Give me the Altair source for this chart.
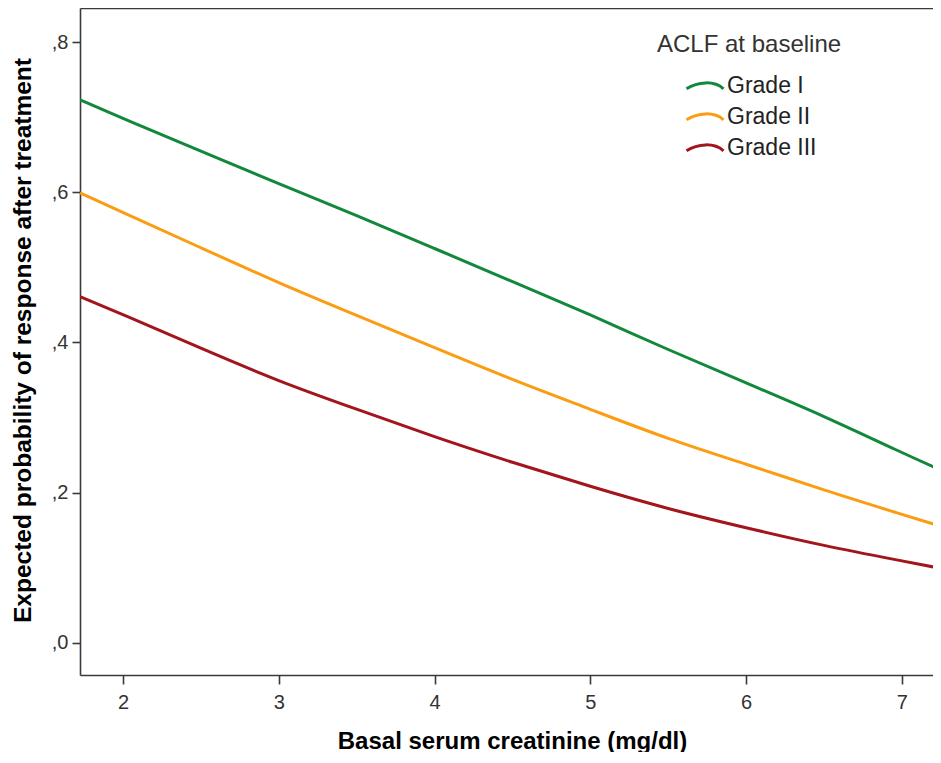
import altair as alt
import pandas as pd

# Values
creatinine = [1.724, 2.0, 2.5, 3.0, 3.5, 4.0, 4.5, 5.0, 5.5, 6.0, 6.5, 7.0, 7.25]
grade_i = [0.723, 0.698, 0.655, 0.611, 0.569, 0.525, 0.481, 0.437, 0.390, 0.346, 0.302, 0.253, 0.230]
grade_ii = [0.599, 0.573, 0.526, 0.479, 0.436, 0.393, 0.350, 0.311, 0.271, 0.238, 0.203, 0.171, 0.155]
grade_iii = [0.461, 0.437, 0.392, 0.348, 0.311, 0.274, 0.240, 0.208, 0.178, 0.153, 0.129, 0.109, 0.099]
grades = ["Grade I", "Grade II", "Grade III"]
colors = ["#12883a", "#fb9d12", "#a3151c"]
x_ticks = [2, 3, 4, 5, 6, 7]
y_ticks = [0.0, 0.2, 0.4, 0.6, 0.8]

rows = []
for g, vals in zip(grades, [grade_i, grade_ii, grade_iii]):
    for x, v in zip(creatinine, vals):
        rows.append({"creatinine": x, "prob": v, "grade": g})
df = pd.DataFrame(rows)

FONT = "Liberation Sans, Arial, sans-serif"
x_scale = alt.Scale(domain=[1.724, 7.2], nice=False, zero=False)
y_scale = alt.Scale(domain=[-0.043, 0.8453], nice=False, zero=False)

lines = alt.Chart(df).mark_line(strokeWidth=3, clip=True, interpolate="basis").encode(
    x=alt.X("creatinine:Q", scale=x_scale,
            axis=alt.Axis(values=x_ticks, format="d", title="Basal serum creatinine (mg/dl)",
                          grid=False, tickSize=9, labelPadding=8, titleX=432, titleY=73,
                          titleBaseline="alphabetic", titleAlign="center")),
    y=alt.Y("prob:Q", scale=y_scale,
            axis=alt.Axis(values=y_ticks, title="Expected probability of response after treatment",
                          labelExpr="replace(format(datum.value, '.1f'), '0.', ',')",
                          grid=False, tickSize=8, labelPadding=4, titleX=-57, titleY=332,
                          titleAngle=270, titleBaseline="middle", titleAlign="center",
                          titleFontSize=24.5)),
    color=alt.Color("grade:N", scale=alt.Scale(domain=grades, range=colors),
                    legend=alt.Legend(title="ACLF at baseline", orient="none",
                                      legendX=577, legendY=25)),
)

top_axis = alt.Chart(df).mark_rule(opacity=0).encode(
    x=alt.X("creatinine:Q", scale=x_scale,
            axis=alt.Axis(orient="top", labels=False, ticks=False, title=None, grid=False,
                          domain=True)),
)

chart = alt.layer(lines, top_axis).resolve_axis(x="independent").properties(
    width=853, height=667,
    autosize=alt.AutoSizeParams(type="none"),
    padding={"left": 72, "top": 0, "right": 0, "bottom": 77},
).configure_view(stroke=None).configure_axis(
    domainColor="#3a3a3a", domainWidth=1.6, tickColor="#3a3a3a", tickWidth=1.6,
    labelFont=FONT, labelFontSize=20, labelColor="#333333",
    titleFont=FONT, titleFontSize=24, titleFontWeight="bold", titleColor="#000000",
).configure_legend(
    titleFont=FONT, titleFontSize=24, titleFontWeight="normal", titleColor="#333333",
    titleLimit=400, labelLimit=300,
    labelFont=FONT, labelFontSize=23, labelColor="#222222",
    symbolType="M-1,0.15 C-0.4,-0.25 0.5,-0.3 1,0.15",
    symbolSize=1369, symbolStrokeWidth=3, symbolOffset=28, labelOffset=2,
    clipHeight=29, rowPadding=2, titlePadding=14.5, padding=0,
)

chart.save("out.html", embed_options={"renderer": "svg", "actions": False})
